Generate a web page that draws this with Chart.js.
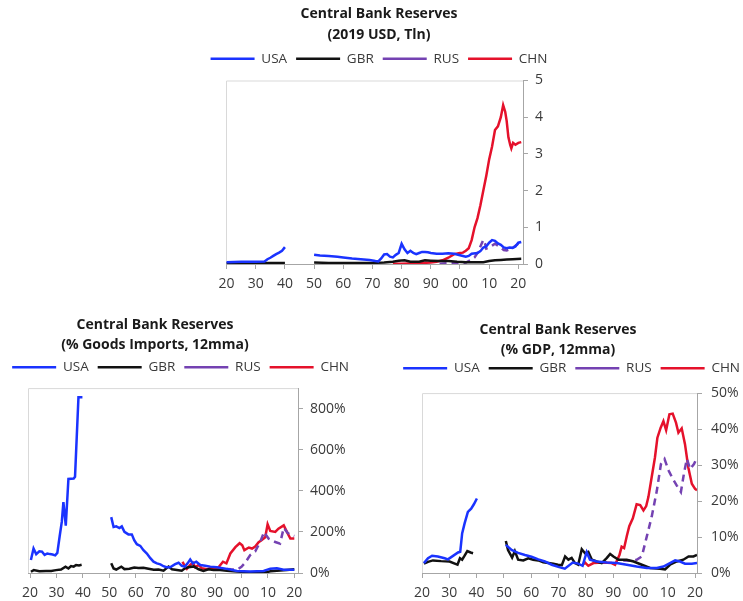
<!DOCTYPE html>
<html>
<head>
<meta charset="utf-8">
<script src="https://cdn.jsdelivr.net/npm/chart.js@4.4.1/dist/chart.umd.min.js"></script>
<style>
  html, body { margin: 0; padding: 0; background: #fff; overflow: hidden; }
  body { width: 743px; height: 601px; position: relative; }
  .box { position: absolute; }
</style>
</head>
<body>
<div class="box" style="left:189px;top:0;width:380px;height:300px"><canvas id="usd-chart"></canvas></div>
<div class="box" style="left:-48px;top:310px;width:406px;height:291px"><canvas id="imports-chart"></canvas></div>
<div class="box" style="left:367px;top:314px;width:382px;height:287px"><canvas id="gdp-chart"></canvas></div>
<script>
// year ticks shared by all three panels
const decades = [1920, 1930, 1940, 1950, 1960, 1970, 1980, 1990, 2000, 2010, 2020];
const countries = ['USA', 'GBR', 'RUS', 'CHN'];

// reserves, 2019 USD tln  [year, value]
const usdUSA = [[1920,0.05],[1925,0.06],[1930,0.06],[1933,0.07],[1934,0.13],[1935,0.17],[1936,0.22],[1937,0.27],[1938,0.31],[1939,0.36],[1940,0.46],[1945,null],
  [1950,0.25],[1952,0.23],[1955,0.22],[1958,0.2],[1960,0.18],[1963,0.15],[1966,0.13],[1969,0.11],[1971,0.08],[1972,0.07],[1973,0.15],[1974,0.26],[1975,0.27],[1976,0.2],[1977,0.18],[1978,0.25],[1979,0.3],[1980,0.55],[1981,0.4],[1982,0.3],[1983,0.36],[1984,0.3],[1985,0.27],[1986,0.3],[1987,0.33],[1988,0.33],[1989,0.32],[1990,0.3],[1992,0.28],[1994,0.28],[1996,0.29],[1998,0.28],[2000,0.24],[2002,0.2],[2003,0.22],[2004,0.28],[2006,0.3],[2007,0.35],[2008,0.45],[2009,0.48],[2010,0.58],[2011,0.65],[2012,0.63],[2013,0.56],[2014,0.52],[2015,0.45],[2016,0.43],[2017,0.45],[2018,0.44],[2019,0.48],[2020,0.58],[2021,0.6]];
const usdGBR = [[1920,0.02],[1930,0.02],[1935,0.025],[1940,0.03],[1945,null],
  [1950,0.04],[1955,0.03],[1960,0.03],[1965,0.03],[1970,0.03],[1974,0.04],[1977,0.06],[1979,0.09],[1981,0.1],[1983,0.06],[1986,0.06],[1988,0.1],[1990,0.09],[1993,0.08],[1996,0.08],[1999,0.06],[2002,0.05],[2005,0.05],[2008,0.05],[2010,0.08],[2012,0.1],[2014,0.11],[2016,0.12],[2018,0.13],[2021,0.14]];
const usdRUS = [[1993,0.01],[1996,0.02],[1999,0.02],[2002,0.04],[2004,0.12],[2005,0.18],[2006,0.3],[2007,0.48],[2008,0.66],[2008.6,0.55],[2009,0.42],[2010,0.45],[2011,0.5],[2012,0.55],[2013,0.5],[2014,0.45],[2015,0.38],[2016,0.37],[2017,0.4],[2018,0.43],[2019,0.5],[2020,0.55],[2021,0.57]];
const usdCHN = [[1977,0.01],[1980,0.01],[1985,0.02],[1990,0.04],[1992,0.06],[1994,0.1],[1996,0.17],[1998,0.27],[2000,0.3],[2001,0.31],[2002,0.36],[2003,0.43],[2004,0.65],[2005,1.0],[2006,1.25],[2007,1.6],[2008,2.0],[2009,2.4],[2010,2.85],[2011,3.2],[2012,3.65],[2013,3.75],[2014,4.0],[2014.8,4.33],[2015.5,4.15],[2016,3.9],[2016.6,3.45],[2017.2,3.25],[2017.6,3.15],[2018.2,3.3],[2019,3.25],[2020,3.3],[2021,3.32]];
const usdTicks = [0, 1, 2, 3, 4, 5];

// reserves, % of goods imports
const impUSA = [[1920.3,63],[1921.3,119],[1922.3,92],[1923.5,106],[1924.5,104],[1925.5,88],[1926.5,95],[1927.5,92],[1928.5,90],[1929.5,86],[1930.3,98],[1931.2,180],[1932,250],[1932.6,345],[1933.5,230],[1934.5,458],[1936.5,460],[1937,468],[1938.3,856],[1939.8,856],[1945,null],
  [1950.7,272],[1951.6,224],[1952.6,227],[1953.8,219],[1954.7,227],[1955.7,200],[1957.2,188],[1958.5,188],[1959.4,160],[1960.4,140],[1961.7,132],[1962.9,111],[1964.2,95],[1965.5,72],[1966.7,55],[1968,47],[1969.3,42],[1970.5,33],[1971.6,28],[1973,28],[1974.9,43],[1976.2,50],[1977.4,35],[1978.6,31],[1979.6,47],[1980.6,66],[1981.6,47],[1982.9,55],[1984.4,39],[1986.3,35],[1988.2,31],[1990.7,28],[1994.5,20],[1998.3,10],[2003.3,7],[2008.4,10],[2010.9,21],[2013.4,23],[2016,16],[2020,16]];
const impGBR = [[1920.3,6],[1921.4,14],[1923.5,9],[1926,10],[1928,10],[1929.8,14],[1931.7,17],[1933.4,31],[1934.5,22],[1935.5,34],[1936.5,31],[1937.4,39],[1938.5,37],[1939.5,40],[1945,null],
  [1950.7,47],[1951.6,22],[1952.6,17],[1954.5,31],[1955.7,19],[1957.6,21],[1959.4,27],[1961,24],[1962.9,26],[1964.8,21],[1966.8,16],[1968.6,17],[1970.5,11],[1972.4,31],[1973.7,18],[1975.6,15],[1977.4,11],[1978.6,23],[1979.9,28],[1981.9,32],[1983.8,18],[1985.6,10],[1987.5,18],[1989.4,15],[1991.9,15],[1994.5,11],[1998.3,7],[2002.1,4],[2007.1,3],[2009.7,5],[2011,8],[2013.4,11],[2017.2,15],[2020,18]];
const impRUS = [[1994.5,20],[1996,18],[1998.4,16],[2000,30],[2001.4,50],[2003.3,87],[2005.2,105],[2007.1,151],[2008.6,200],[2009.3,185],[2010.3,167],[2012.8,151],[2014.6,143],[2016,220],[2017.5,195],[2018.5,185],[2020,180]];
const impCHN = [[1977.7,55],[1978.8,26],[1979.3,20],[1980.6,39],[1981.6,50],[1982.5,28],[1983.8,39],[1985,23],[1987,18],[1988.8,26],[1990.7,18],[1992,39],[1993,55],[1994.3,47],[1995.8,95],[1997.7,126],[1999.3,145],[2000.3,135],[2001.1,111],[2002.8,124],[2004,119],[2005.2,129],[2006.5,150],[2007.7,161],[2009,174],[2009.9,237],[2010.9,205],[2012.8,200],[2014,216],[2016,232],[2017.2,200],[2018.5,168],[2020,168]];
const impTicks = [0, 200, 400, 600, 800];

// reserves, % of GDP
const gdpUSA = [[1920.7,2.75],[1922.2,4.1],[1923.7,4.8],[1925.8,4.6],[1928.3,4.1],[1929.5,3.8],[1930.7,4.4],[1933.2,5.7],[1934,5.9],[1934.7,11],[1935.6,13.8],[1936.8,17],[1938,17.9],[1939,19.1],[1940.1,20.7],[1945,null],
  [1950.7,7.8],[1952.8,6.4],[1955.2,5.6],[1957.7,5.0],[1960.1,4.5],[1962.6,3.8],[1965,3.2],[1967.5,2.3],[1969.9,1.7],[1972.3,1.2],[1975.2,2.9],[1977.2,2.6],[1978.8,2.0],[1980.3,5.8],[1981.5,3.7],[1984,3.2],[1987.7,2.9],[1991.3,2.75],[1995,2.3],[1998.6,1.8],[2002.3,1.4],[2006,1.4],[2008.4,1.8],[2010.8,2.75],[2012.7,3.5],[2014.5,3.2],[2016.3,2.6],[2018.8,2.6],[2020.7,2.75]];
const gdpGBR = [[1920.7,2.6],[1922.2,3.1],[1924,3.5],[1927,3.3],[1930.1,3.2],[1932,2.6],[1933,2.3],[1933.9,4.1],[1934.7,3.7],[1935.6,4.8],[1936.6,6.1],[1937.8,5.7],[1938.7,5.5],[1945,null],
  [1950.7,8.9],[1951.5,6.4],[1953,4.3],[1954,6.1],[1955.2,3.7],[1957.1,3.5],[1958.9,4.1],[1960.7,3.7],[1962.6,3.5],[1964.4,3.0],[1966.3,2.8],[1968.1,2.6],[1969.8,2.3],[1971.2,2.2],[1972.4,4.6],[1973.6,3.7],[1974.8,4.2],[1976,2.75],[1977.2,2.3],[1978.5,6.6],[1979.7,5.5],[1980.9,5.9],[1982.2,3.7],[1984,3.2],[1985.8,2.75],[1987.7,4.2],[1988.9,5.3],[1990.1,4.6],[1992,3.7],[1995,3.7],[1997.5,3.2],[2000.5,2.3],[2003.5,1.4],[2007.2,1.2],[2009,1.0],[2010.8,2.3],[2013.3,3.2],[2015.7,3.7],[2017.6,4.6],[2019.4,4.6],[2020.7,5.0]];
const gdpRUS = [[1993.7,3.5],[1996,3.4],[1998.6,3.7],[2000.5,4.6],[2002.3,10.1],[2004.1,15.6],[2006,22.9],[2007.5,30.3],[2008.8,31.7],[2010.3,28.5],[2011.8,26.2],[2013.3,24.3],[2014.8,22.5],[2016,28],[2017,31.7],[2018.2,28.9],[2019.6,30.3],[2020.7,32.1]];
const gdpCHN = [[1978.5,2.0],[1979.7,2.9],[1980.9,2.0],[1982.8,2.75],[1986.4,2.9],[1989.4,2.75],[1990.7,2.3],[1992.3,5.0],[1993.1,7.3],[1994,6.9],[1995,10.3],[1995.9,13],[1997.2,15.2],[1998.6,19.1],[1999.9,18.9],[2001.1,17.4],[2002.1,18.6],[2002.9,21.1],[2004.1,26.6],[2005.3,32.1],[2006.2,37.6],[2007.4,40.4],[2008.4,42.2],[2009.4,39.7],[2010.6,44.1],[2011.8,44.3],[2013,41.8],[2013.9,39],[2015.1,40.2],[2016.3,35.8],[2017.5,29.4],[2018.8,24.8],[2020,23.4],[2020.7,23]];
const gdpTicks = [0, 10, 20, 30, 40, 50];

const colors = { USA: '#1a33ff', GBR: '#111111', RUS: '#7442b2', CHN: '#e5112b' };
const AXIS = '#a6a6a6';

Chart.defaults.font.family = "'Open Sans', sans-serif";
Chart.defaults.font.size = 14;
Chart.defaults.color = '#3a3a3a';

// light frame on the left and top of the plot
const framePlugin = {
  id: 'frame',
  beforeDatasetsDraw(chart) {
    const { ctx, chartArea: a } = chart;
    ctx.save();
    ctx.strokeStyle = '#d9d9d9';
    ctx.lineWidth = 1;
    ctx.beginPath();
    ctx.moveTo(a.left + 0.5, a.bottom);
    ctx.lineTo(a.left + 0.5, a.top + 0.5);
    ctx.lineTo(a.right, a.top + 0.5);
    ctx.stroke();
    ctx.restore();
  },
};

function series(name, rows) {
  return {
    label: name,
    data: rows.map(r => ({ x: r[0], y: r[1] })),
    borderColor: colors[name],
    backgroundColor: colors[name],
    borderWidth: 2.5,
    borderDash: name === 'RUS' ? [7, 5] : [],
    pointRadius: 0,
    tension: 0,
    spanGaps: false,
    xAxisID: 'x',
    yAxisID: 'y',
  };
}

// empty axis used only as a fixed-size spacer
const spacer = (position, size) => ({
  position,
  ticks: { display: false },
  grid: { display: false, drawTicks: false },
  border: { display: false },
  afterFit: s => {
    if (s.isHorizontal()) s.height = size; else s.width = size;
  },
});

function makeChart(id, o) {
  return new Chart(id, {
    type: 'line',
    data: { datasets: countries.map((c, i) => series(c, o.rows[i])) },
    plugins: [framePlugin],
    options: {
      responsive: true,
      maintainAspectRatio: false,
      animation: false,
      plugins: {
        title: {
          display: true,
          text: o.title,
          color: '#1a1a1a',
          font: { size: 14, weight: 'bold', lineHeight: o.titleLine },
          padding: { top: o.titleTop, bottom: o.titleBottom },
        },
        legend: {
          align: o.legendAlign,
          labels: {
            usePointStyle: true,
            pointStyle: 'line',
            pointStyleWidth: 44,
            padding: 9,
            color: '#3a3a3a',
            font: { size: 13.5 },
          },
        },
        tooltip: { enabled: false },
      },
      scales: {
        x: {
          type: 'linear',
          min: o.xMin,
          max: o.xMax,
          afterBuildTicks: s => { s.ticks = decades.map(v => ({ value: v })); },
          ticks: {
            autoSkip: false,
            maxRotation: 0,
            padding: 7,
            callback: v => String(v % 100).padStart(2, '0'),
          },
          grid: { drawOnChartArea: false, tickLength: 5, color: AXIS },
          border: { color: AXIS },
          afterFit: s => { s.height = o.xHeight; },
        },
        y: {
          position: 'right',
          min: 0,
          max: o.yMax,
          afterBuildTicks: s => { s.ticks = o.yTicks.map(v => ({ value: v })); },
          ticks: { padding: o.yPad, callback: o.yLabel },
          grid: { drawOnChartArea: false, tickLength: 5, color: AXIS },
          border: { color: AXIS },
          afterFit: s => { s.width = o.rightWidth; },
        },
        padLeft: spacer('left', o.leftWidth),
        padTop: { axis: 'x', ...spacer('top', o.topGap) },
      },
    },
  });
}

const usdChart = makeChart('usd-chart', {
  title: ['Central Bank Reserves', '(2019 USD, Tln)'],
  titleLine: 1.5, titleTop: 4, titleBottom: -3,
  legendAlign: 'center',
  rows: [usdUSA, usdGBR, usdRUS, usdCHN],
  xMin: 1919.8, xMax: 2021.6, xHeight: 36,
  yMax: 5, yTicks: usdTicks, yLabel: v => v, yPad: 7,
  leftWidth: 37, rightWidth: 46, topGap: 5,
});

const importsChart = makeChart('imports-chart', {
  title: ['Central Bank Reserves', '(% Goods Imports, 12mma)'],
  titleLine: 1.45, titleTop: 5, titleBottom: -4,
  legendAlign: 'end',
  rows: [impUSA, impGBR, impRUS, impCHN],
  xMin: 1919.2, xMax: 2021.4, xHeight: 28,
  yMax: 900, yTicks: impTicks, yLabel: v => v + '%', yPad: 7,
  leftWidth: 76, rightWidth: 60, topGap: 4,
});

const gdpChart = makeChart('gdp-chart', {
  title: ['Central Bank Reserves', '(% GDP, 12mma)'],
  titleLine: 1.45, titleTop: 6, titleBottom: -8,
  legendAlign: 'end',
  rows: [gdpUSA, gdpGBR, gdpRUS, gdpCHN],
  xMin: 1920, xMax: 2020.7, xHeight: 28,
  yMax: 50, yTicks: gdpTicks, yLabel: v => v + '%', yPad: 9,
  leftWidth: 55, rightWidth: 52, topGap: 8,
});
</script>
</body>
</html>
